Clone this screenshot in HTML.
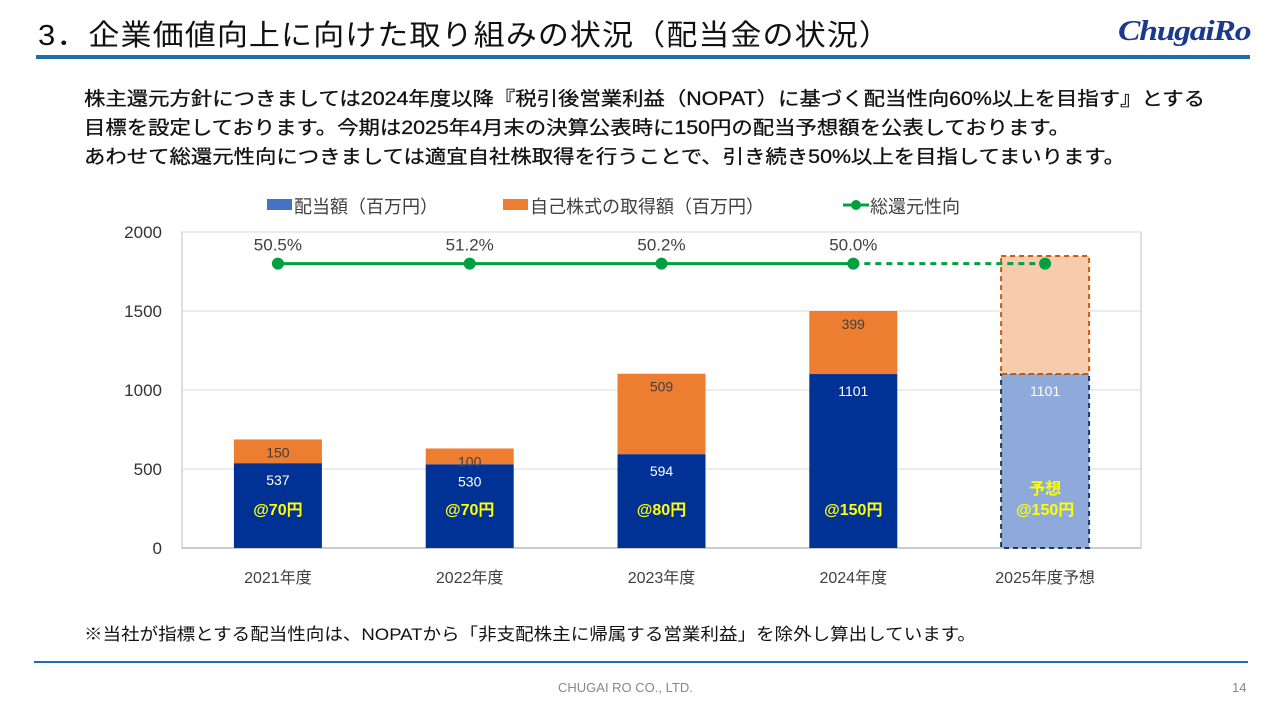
<!DOCTYPE html>
<html><head><meta charset="utf-8">
<style>
body{margin:0;width:1280px;height:720px;background:#fff;position:relative;overflow:hidden;font-family:"Liberation Sans","Noto Sans CJK JP",sans-serif;}
.t{position:absolute;white-space:nowrap;transform-origin:0 0;}
</style></head><body>
<div class="t" style="left:38px;top:12px;font-size:29px;color:#111;letter-spacing:1px;transform:scaleX(1.07)">3．企業価値向上に向けた取り組みの状況（配当金の状況）</div>
<div class="t" style="left:1118px;top:16px;font-size:28px;font-weight:bold;font-style:italic;color:#1c3a8c;font-family:'Liberation Serif',serif;letter-spacing:-1px;transform:scaleX(1.2)">ChugaiRo</div>
<div style="position:absolute;left:36px;top:55px;width:1214px;height:4px;background:#1f6eae"></div>
<div class="t" style="left:84px;top:85px;font-size:19px;line-height:29px;color:#111;transform:scaleX(1.125);-webkit-text-stroke:0.3px #111">株主還元方針につきましては2024年度以降『税引後営業利益（NOPAT）に基づく配当性向60%以上を目指す』とする<br>目標を設定しております。今期は2025年4月末の決算公表時に150円の配当予想額を公表しております。<br>あわせて総還元性向につきましては適宜自社株取得を行うことで、引き続き50%以上を目指してまいります。</div>
<svg id="chart" width="1280" height="720" style="position:absolute;left:0;top:0" xmlns="http://www.w3.org/2000/svg"></svg>
<div class="t" style="left:84px;top:620px;font-size:17px;color:#111;transform:scaleX(1.09)">※当社が指標とする配当性向は、NOPATから「非支配株主に帰属する営業利益」を除外し算出しています。</div>
<div style="position:absolute;left:34px;top:661px;width:1214px;height:2px;background:#1f6eae"></div>
<div class="t" style="left:558px;top:680px;font-size:13px;color:#888">CHUGAI RO CO., LTD.</div>
<div class="t" style="left:1232px;top:680px;font-size:13px;color:#888">14</div>
<script>
const categories=["2021年度","2022年度","2023年度","2024年度","2025年度予想"];
const dividends=[537,530,594,1101,1101];
const buybacks=[150,100,509,399,747];
const showBuybackLabel=[true,true,true,true,false];
const perShare=["@70円","@70円","@80円","@150円","予想\n@150円"];
const payoutPct=["50.5%","51.2%","50.2%","50.0%",""];
const lineLevel=[1800,1800,1800,1800,1800];
const yTicks=[0,500,1000,1500,2000];
const NS="http://www.w3.org/2000/svg";
const svg=document.getElementById('chart');
const X0=182,X1=1141,Y0=548,Y1=232,YMAX=2000;
const y=v=>Y0-(v/YMAX)*(Y0-Y1);
const band=(X1-X0)/categories.length;
const xc=i=>X0+band*(i+0.5);
const bw=88;
function el(tag,attrs,parent){const e=document.createElementNS(NS,tag);for(const k in attrs)e.setAttribute(k,attrs[k]);(parent||svg).appendChild(e);return e;}
function txt(x,yy,s,attrs){const t=el('text',Object.assign({x:x,y:yy,'font-family':'"Liberation Sans","Noto Sans CJK JP",sans-serif'},attrs));t.textContent=s;return t;}
const frame=el('rect',{x:X0,y:Y1,width:X1-X0,height:Y0-Y1,fill:'none',stroke:'#bfbfbf'});


yTicks.forEach(v=>{
  const g=el('line',{x1:X0,x2:X1,y1:y(v),y2:y(v),stroke:'#d9d9d9'});
  
  
  const t=txt(X0-20,y(v)+6,String(v),{'font-size':17,fill:'#333','text-anchor':'end'});
  
  
});
el('line',{x1:X0,x2:X1,y1:Y0,y2:Y0,stroke:'#999'});
categories.forEach((c,i)=>{
  const f=i===4;
  const bx=xc(i)-bw/2;
  const d=el('rect',{x:bx,y:y(dividends[i]),width:bw,height:Y0-y(dividends[i]),fill:f?'#8eaadb':'#003296',stroke:f?'#1f3864':'none','stroke-dasharray':f?'5,4':'', 'stroke-width':f?2:0});
  
  
  const top=dividends[i]+buybacks[i];
  const b=el('rect',{x:bx,y:y(top),width:bw,height:y(dividends[i])-y(top),fill:f?'#f8cbad':'#ed7d31',stroke:f?'#c55a11':'none','stroke-dasharray':f?'5,4':'','stroke-width':f?2:0});
  
  
  const dl=txt(xc(i),y(dividends[i])+22,String(dividends[i]),{'font-size':14,fill:'#fff','text-anchor':'middle'});
  
  
  if(showBuybackLabel[i]){
    const bl=txt(xc(i),y(top)+18,String(buybacks[i]),{'font-size':14,fill:'#404040','text-anchor':'middle'});
    
    
  }
  const lines=perShare[i].split('\n');
  lines.forEach((s,k)=>{
    const p=txt(xc(i),515-(lines.length-1-k)*21,s,{'font-size':16,'font-weight':'bold',fill:'#ffff00','text-anchor':'middle'});
    
    
  });
  const xl=txt(xc(i),583,c,{'font-size':16,fill:'#404040','text-anchor':'middle'});
  
  
});
for(let i=0;i<categories.length-1;i++){
  const f=i+1===4;
  const s=el('line',{x1:xc(i),y1:y(lineLevel[i]),x2:xc(i+1),y2:y(lineLevel[i+1]),stroke:'#00a040','stroke-width':3,'stroke-dasharray':f?'6,5':''});
  
  
}
categories.forEach((c,i)=>{
  const p=el('circle',{cx:xc(i),cy:y(lineLevel[i]),r:6,fill:'#00a040'});
  
  
  if(payoutPct[i]){
    const t=txt(xc(i),y(lineLevel[i])-13,payoutPct[i],{'font-size':17,fill:'#404040','text-anchor':'middle'});
    
    
  }
});
const lg=[[267,'#4472c4','配当額（百万円）','box'],[503,'#ed7d31','自己株式の取得額（百万円）','box'],[843,'#00a040','総還元性向','line']];
lg.forEach(l=>{
  const g=el('g',{});
  
  
  if(l[3]==='box')el('rect',{x:l[0],y:199,width:25,height:11,fill:l[1]},g);
  else{el('line',{x1:l[0],x2:l[0]+26,y1:205,y2:205,stroke:l[1],'stroke-width':3},g);el('circle',{cx:l[0]+13,cy:205,r:5,fill:l[1]},g);}
  const t=txt(l[0]+27,213,l[2],{'font-size':18,fill:'#404040'});g.appendChild(t);
});
</script>
</body></html>
